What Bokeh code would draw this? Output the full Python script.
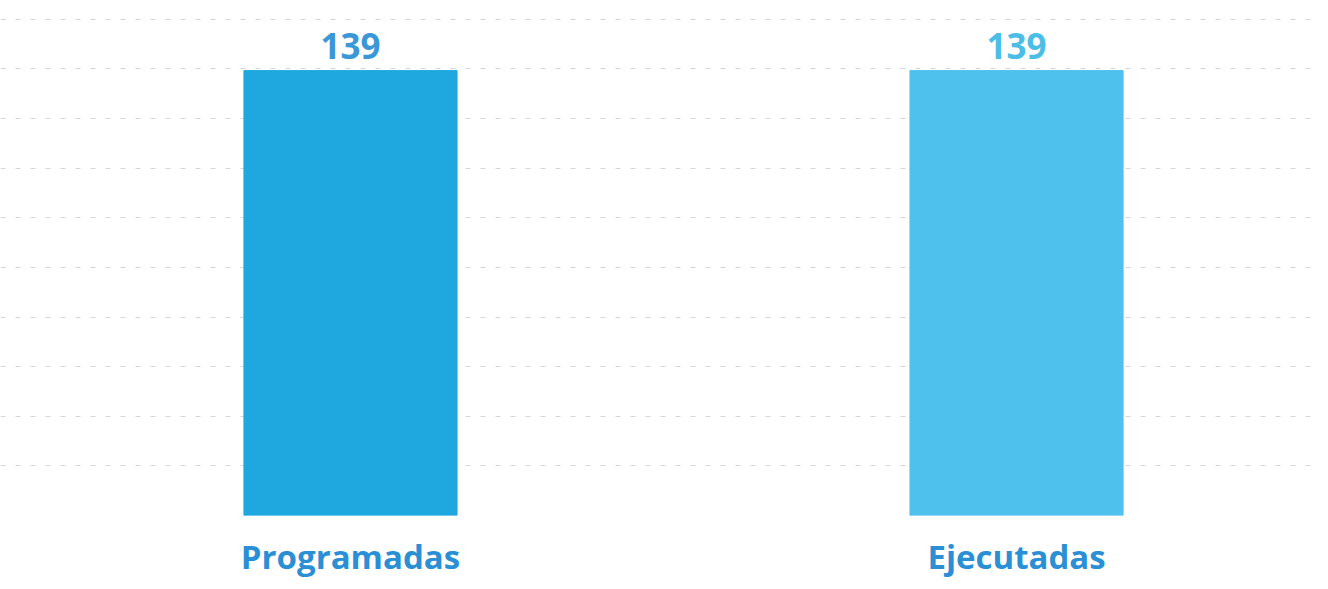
from bokeh.plotting import figure
from bokeh.models import ColumnDataSource, Range1d, FixedTicker, SingleIntervalTicker, LabelSet
from bokeh.core.properties import value
from bokeh.embed import file_html
from bokeh.resources import INLINE

categories = ["Programadas", "Ejecutadas"]
values = [139, 139]
bar_colors = ["#1FA8E0", "#4EC2EC"]
label_colors = ["#3A98D8", "#4BBDE6"]

idx = list(range(len(categories)))
src = ColumnDataSource(dict(x=idx, v=values, c=bar_colors, lc=label_colors,
                            t=[str(v) for v in values]))

p = figure(width=1312, height=581, output_backend="svg", toolbar_location=None,
           x_range=Range1d(-0.5255, 1.4444), y_range=Range1d(0, 160.9),
           min_border_left=0, min_border_right=0, min_border_top=0, min_border_bottom=66)
p.outline_line_color = None
p.background_fill_color = "white"

p.vbar(x="x", top="v", width=0.32, color="c", source=src)

labels = LabelSet(x="x", y="v", text="t", source=src, text_align="center",
                  text_baseline="alphabetic", y_offset=12, text_color="lc",
                  text_font=value("Open Sans"), text_font_style="bold", text_font_size="35px")
p.add_layout(labels)

p.xaxis.ticker = FixedTicker(ticks=idx)
p.xaxis.major_label_overrides = {i: c for i, c in zip(idx, categories)}
p.xaxis.major_label_text_font = "Open Sans"
p.xaxis.major_label_text_font_style = "bold"
p.xaxis.major_label_text_font_size = "33px"
p.xaxis.major_label_text_color = "#2B8FD5"
p.xaxis.major_label_standoff = 12
p.xaxis.axis_line_color = None
p.xaxis.major_tick_line_color = None
p.xaxis.minor_tick_line_color = None

p.yaxis.ticker = SingleIntervalTicker(interval=15.5)
p.yaxis.visible = False
p.xgrid.grid_line_color = None
p.ygrid.grid_line_color = "#d6d6d6"
p.ygrid.grid_line_dash = "5 10"
p.ygrid.grid_line_width = 1

open("out.html", "w").write(file_html(p, INLINE))
